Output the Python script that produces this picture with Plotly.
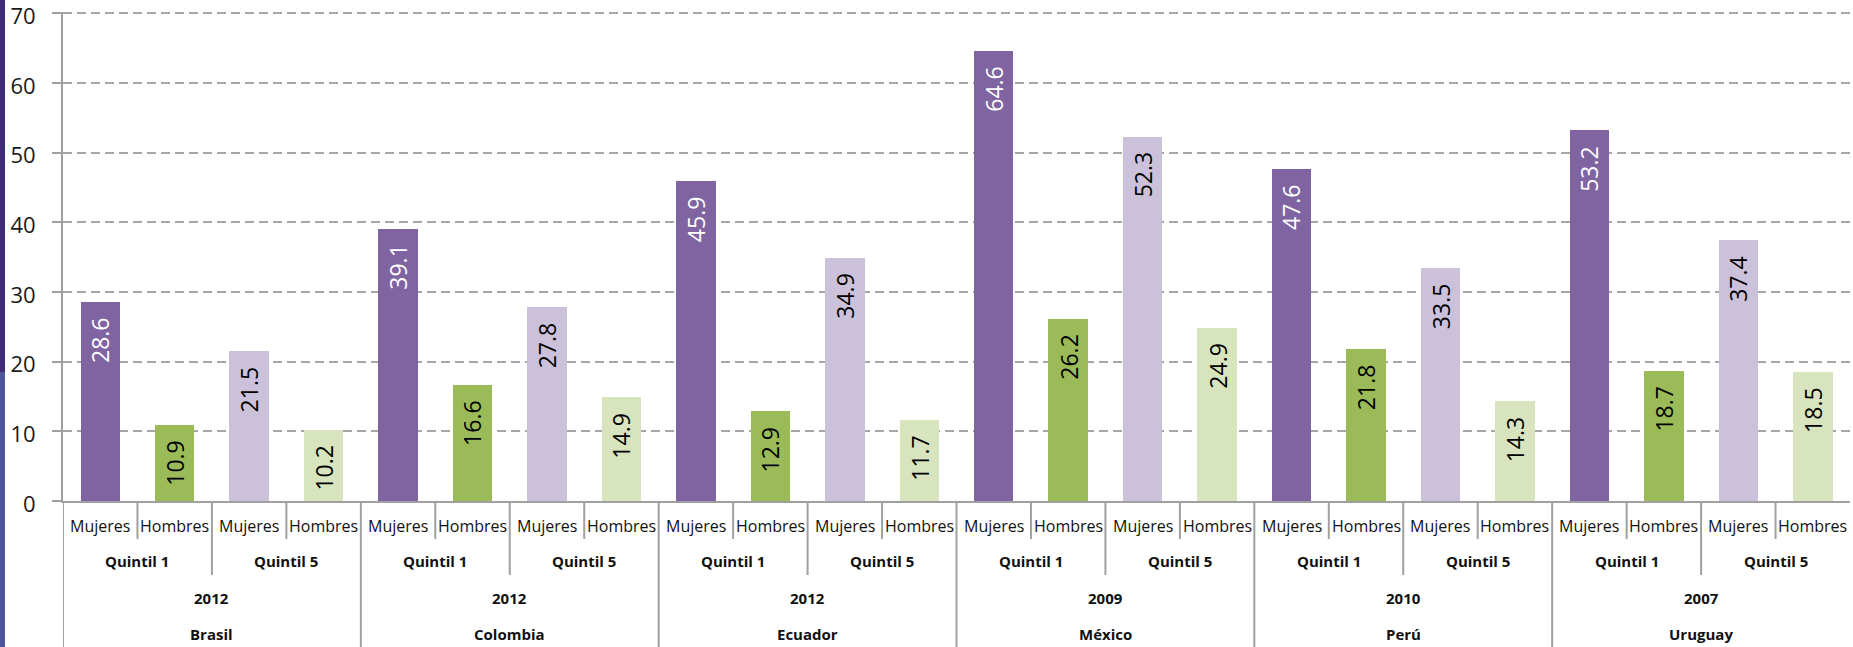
import plotly.graph_objects as go

countries = ["Brasil", "Colombia", "Ecuador", "México", "Perú", "Uruguay"]
years = ["2012", "2012", "2012", "2009", "2010", "2007"]
quintiles = ["Quintil 1", "Quintil 5"]
sexes = ["Mujeres", "Hombres"]

q1_mujeres = [28.6, 39.1, 45.9, 64.6, 47.6, 53.2]
q1_hombres = [10.9, 16.6, 12.9, 26.2, 21.8, 18.7]
q5_mujeres = [21.5, 27.8, 34.9, 52.3, 33.5, 37.4]
q5_hombres = [10.2, 14.9, 11.7, 24.9, 14.3, 18.5]

series = [
    (q1_mujeres, 0, "#8064A2", "white"),
    (q1_hombres, 1, "#9BBB59", "black"),
    (q5_mujeres, 2, "#CCC1DA", "black"),
    (q5_hombres, 3, "#D7E4BD", "black"),
]

W, H = 1853, 647
ML, MR, MT, MB = 63, 3, 12, 146
PH = H - MT - MB
PW = W - ML - MR


def py(Y):
    return (H - MB - Y) / PH


def px(X):
    return (X - ML) / PW


fig = go.Figure()
annotations = []
for vals, off, col, tcol in series:
    xs = [4 * i + off for i in range(len(countries))]
    fig.add_trace(go.Bar(x=xs, y=vals, width=0.53, marker=dict(color=col, line=dict(width=0)),
                         showlegend=False, hoverinfo="y"))
    for x, v in zip(xs, vals):
        annotations.append(dict(x=x, y=v, xref="x", yref="y", text=f"{v:.1f}", showarrow=False,
                                textangle=-90, yanchor="top", xanchor="center", yshift=-13,
                                font=dict(family="Open Sans", size=23, color=tcol)))

lab_font = dict(family="Open Sans", size=16, color="#111")
bold_font = dict(family="Open Sans", size=15, color="#111", weight="bold")
for i, (c, yr) in enumerate(zip(countries, years)):
    for q in range(2):
        for s in range(2):
            annotations.append(dict(x=4 * i + 2 * q + s, y=py(526), xref="x", yref="paper",
                                    text=sexes[s], showarrow=False, yanchor="middle", font=lab_font))
        annotations.append(dict(x=4 * i + 2 * q + 0.5, y=py(561), xref="x", yref="paper",
                                text=quintiles[q], showarrow=False, yanchor="middle", font=bold_font))
    annotations.append(dict(x=4 * i + 1.5, y=py(598), xref="x", yref="paper", text=yr,
                            showarrow=False, yanchor="middle", font=bold_font))
    annotations.append(dict(x=4 * i + 1.5, y=py(634), xref="x", yref="paper", text=c,
                            showarrow=False, yanchor="middle", font=bold_font))

shapes = []
sep = dict(color="#A0A0A0", width=2)
for i in range(len(countries)):
    base = 4 * i
    for b in (0.5, 2.5):
        shapes.append(dict(type="line", xref="x", yref="paper", x0=base + b, x1=base + b,
                           y0=0, y1=py(539), line=sep))
    shapes.append(dict(type="line", xref="x", yref="paper", x0=base + 1.5, x1=base + 1.5,
                       y0=0, y1=py(575), line=sep))
    shapes.append(dict(type="line", xref="x", yref="paper", x0=base - 0.5, x1=base - 0.5,
                       y0=0, y1=py(H + 5), line=sep))

# decorative slide edge on the left
shapes.append(dict(type="rect", xref="paper", yref="paper", x0=px(-2), x1=px(5), y0=py(-2), y1=py(372),
                   fillcolor="#3E2A76", line=dict(width=0), layer="below"))
shapes.append(dict(type="rect", xref="paper", yref="paper", x0=px(-2), x1=px(5), y0=py(372), y1=py(H + 2),
                   fillcolor="#51559B", line=dict(width=0), layer="below"))

fig.update_layout(
    width=W, height=H,
    margin=dict(l=ML, r=MR, t=MT, b=MB, autoexpand=False),
    paper_bgcolor="white", plot_bgcolor="white",
    bargap=0, annotations=annotations, shapes=shapes,
    xaxis=dict(range=[-0.5, 23.5], showticklabels=False, showgrid=False, zeroline=False,
               showline=True, linecolor="#A0A0A0", linewidth=2, ticks="", automargin=False),
    yaxis=dict(range=[0, 70.2], tickvals=[0, 10, 20, 30, 40, 50, 60, 70], showgrid=True,
               gridcolor="#A6A6A6", gridwidth=2,
               griddash="9px,5px", zeroline=False, showline=True, linecolor="#A0A0A0", linewidth=2,
               ticks="outside", ticklen=9, tickwidth=2, tickcolor="#A0A0A0",
               ticklabelstandoff=12, ticklabelshift=3, ticklabeloverflow="allow",
               automargin=False,
               tickfont=dict(family="Open Sans", size=22, color="#1a1a1a")),
)

fig.write_html("out.html", config={"displayModeBar": False},
               post_script="document.body.style.margin='0';document.body.style.overflow='hidden';")
